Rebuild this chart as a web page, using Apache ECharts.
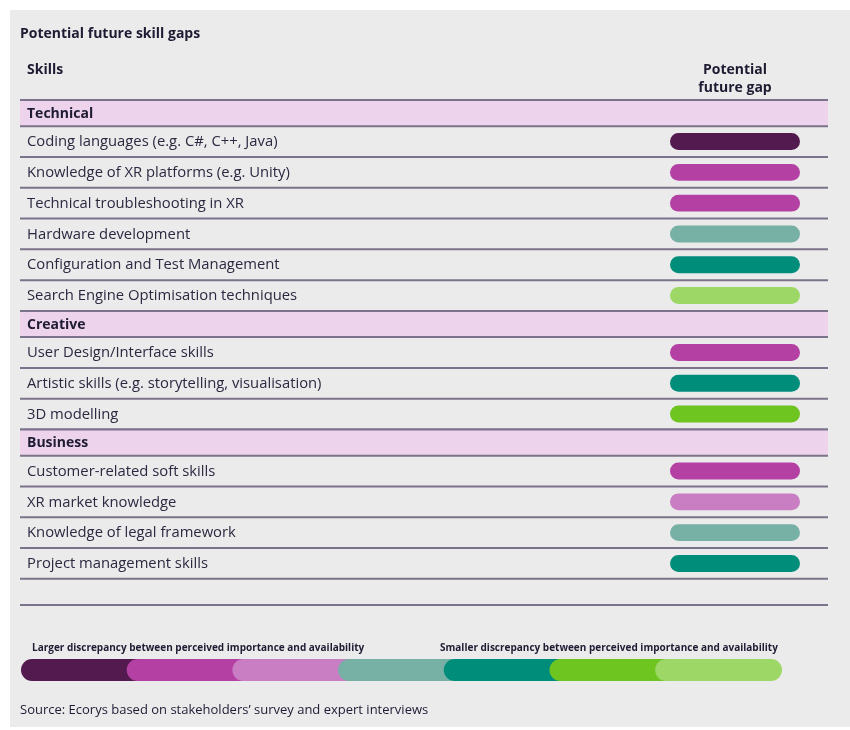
<!DOCTYPE html>
<html>
<head>
<meta charset="utf-8">
<script src="https://cdn.jsdelivr.net/npm/echarts@6/dist/echarts.min.js"></script>
<style>html,body{margin:0;padding:0;background:#fff;}#chart{width:850px;height:730px;}</style>
</head>
<body>
<div id="chart"></div>
<script>
// ---- data ----
const titleText = 'Potential future skill gaps';
const colHeaderSkills = 'Skills';
const colHeaderGap = ['Potential', 'future gap'];
const groups = ['Technical', 'Creative', 'Business'];
const skills = [
  'Coding languages (e.g. C#, C++, Java)',
  'Knowledge of XR platforms (e.g. Unity)',
  'Technical troubleshooting in XR',
  'Hardware development',
  'Configuration and Test Management',
  'Search Engine Optimisation techniques',
  'User Design/Interface skills',
  'Artistic skills (e.g. storytelling, visualisation)',
  '3D modelling',
  'Customer-related soft skills',
  'XR market knowledge',
  'Knowledge of legal framework',
  'Project management skills'
];
const skillGroup = [0, 0, 0, 0, 0, 0, 1, 1, 1, 2, 2, 2, 2];
// gap level: 1 = larger discrepancy ... 7 = smaller discrepancy
const gapLevel = [1, 2, 2, 4, 5, 7, 2, 5, 6, 2, 3, 4, 5];
const legendLevels = [1, 2, 3, 4, 5, 6, 7];
const legendLeftText = 'Larger discrepancy between perceived importance and availability';
const legendRightText = 'Smaller discrepancy between perceived importance and availability';
const sourceText = "Source: Ecorys based on stakeholders\u2019 survey and expert interviews";

// ---- styles ----
const palette = ['#521a4f', '#b440a4', '#c97dc2', '#77b0a5', '#008e7b', '#6ec520', '#9dd866'];
const bandColor = '#edd3ec';
const lineColor = '#7b7389';
const textColor = '#2b2840';
const headColor = '#1e1b33';
const FONT = '"Open Sans", "Noto Sans", sans-serif';
const GROUP_H = 0.85, SKILL_H = 1, BLANK_H = 0.85;

// ---- build row layout ----
const rows = [];
let acc = 0;
groups.forEach((g, gi) => {
  rows.push({ type: 'group', label: g, y0: acc, y1: acc + GROUP_H }); acc += GROUP_H;
  skills.forEach((s, i) => {
    if (skillGroup[i] === gi) {
      rows.push({ type: 'skill', label: s, level: gapLevel[i], y0: acc, y1: acc + SKILL_H });
      acc += SKILL_H;
    }
  });
});
rows.push({ type: 'blank', label: '', y0: acc, y1: acc + BLANK_H }); acc += BLANK_H;
const total = acc;
const skillRows = rows.filter(r => r.type === 'skill');

const chart = echarts.init(document.getElementById('chart'), null, { renderer: 'canvas' });

const option = {
  backgroundColor: '#ffffff',
  animation: false,
  graphic: [
    { type: 'rect', z: -10, silent: true, shape: { x: 10, y: 10, width: 840, height: 717 }, style: { fill: '#ebebeb' } },
    { type: 'text', x: 20, y: 34, style: { text: titleText, font: 'bold 14px ' + FONT, fill: headColor, textVerticalAlign: 'middle' } },
    { type: 'text', x: 27, y: 70, style: { text: colHeaderSkills, font: 'bold 14px ' + FONT, fill: headColor, textVerticalAlign: 'middle' } },
    { type: 'text', x: 735, y: 61, style: { text: colHeaderGap.join('\n'), font: 'bold 14px ' + FONT, fill: headColor, textAlign: 'center', lineHeight: 18 } },
    { type: 'text', x: 32, y: 648, style: { text: legendLeftText, font: 'bold 10px ' + FONT, fill: headColor, textVerticalAlign: 'middle' } },
    { type: 'text', x: 440, y: 648, style: { text: legendRightText, font: 'bold 10px ' + FONT, fill: headColor, textVerticalAlign: 'middle' } },
    { type: 'text', x: 20, y: 710, style: { text: sourceText, font: '13px ' + FONT, fill: headColor, textVerticalAlign: 'middle' } }
  ],
  grid: [
    { left: 20, right: 22, top: 100, height: 505 },
    { left: 670, width: 130, top: 100, height: 505 },
    { left: 21, right: 68, top: 659, height: 22 }
  ],
  xAxis: [
    { gridIndex: 0, type: 'value', min: 0, max: 1, show: false },
    { gridIndex: 1, type: 'value', min: 0, max: 1, show: false },
    { gridIndex: 2, type: 'value', min: 0, max: 7.2, show: false }
  ],
  yAxis: [
    { gridIndex: 0, type: 'value', min: 0, max: total, inverse: true, show: false },
    { gridIndex: 1, type: 'value', min: 0, max: total, inverse: true, show: false },
    { gridIndex: 2, type: 'value', min: 0, max: 1, show: false }
  ],
  series: [
    {
      type: 'custom', xAxisIndex: 0, yAxisIndex: 0, z: 2,
      data: rows.map(r => [r.y0, r.y1]),
      renderItem: function (params, api) {
        const r = rows[params.dataIndex];
        const cs = params.coordSys;
        const yTop = api.coord([0, r.y0])[1];
        const yBot = api.coord([0, r.y1])[1];
        const children = [];
        if (r.type === 'group') {
          children.push({ type: 'rect', shape: { x: cs.x, y: yTop, width: cs.width, height: yBot - yTop }, style: { fill: bandColor } });
        }
        if (params.dataIndex === 0 || r.type === 'group') {
          children.push({ type: 'line', shape: { x1: cs.x, y1: yTop, x2: cs.x + cs.width, y2: yTop }, style: { stroke: lineColor, lineWidth: 2 } });
        }
        children.push({ type: 'line', shape: { x1: cs.x, y1: yBot, x2: cs.x + cs.width, y2: yBot }, style: { stroke: lineColor, lineWidth: 2 } });
        if (r.label) {
          children.push({
            type: 'text', x: cs.x + 7, y: (yTop + yBot) / 2 + 0.5,
            style: {
              text: r.label,
              font: (r.type === 'group' ? 'bold 14px ' : '14.8px ') + FONT,
              fill: r.type === 'group' ? headColor : textColor,
              textAlign: 'left', textVerticalAlign: 'middle'
            }
          });
        }
        return { type: 'group', children: children };
      }
    },
    {
      type: 'custom', xAxisIndex: 1, yAxisIndex: 1, z: 3,
      data: skillRows.map(r => [r.level, (r.y0 + r.y1) / 2]),
      renderItem: function (params, api) {
        const r = skillRows[params.dataIndex];
        const mid = (r.y0 + r.y1) / 2;
        const p0 = api.coord([0, mid]);
        const p1 = api.coord([1, mid]);
        const h = api.size([0, SKILL_H])[1] * 0.55;
        return {
          type: 'rect',
          shape: { x: p0[0], y: p0[1] - h / 2, width: p1[0] - p0[0], height: h, r: h / 2 },
          style: { fill: palette[r.level - 1] }
        };
      }
    },
    {
      type: 'custom', xAxisIndex: 2, yAxisIndex: 2, z: 3,
      data: legendLevels.map((lv, i) => [i, lv]),
      renderItem: function (params, api) {
        const i = params.dataIndex;
        const lv = legendLevels[i];
        const p0 = api.coord([i, 1]);
        const p1 = api.coord([i + 1.2, 0]);
        const h = p1[1] - p0[1];
        return {
          type: 'rect',
          shape: { x: p0[0], y: p0[1], width: p1[0] - p0[0], height: h, r: h / 2 },
          style: { fill: palette[lv - 1] }
        };
      }
    }
  ]
};
chart.setOption(option);
</script>
</body>
</html>
